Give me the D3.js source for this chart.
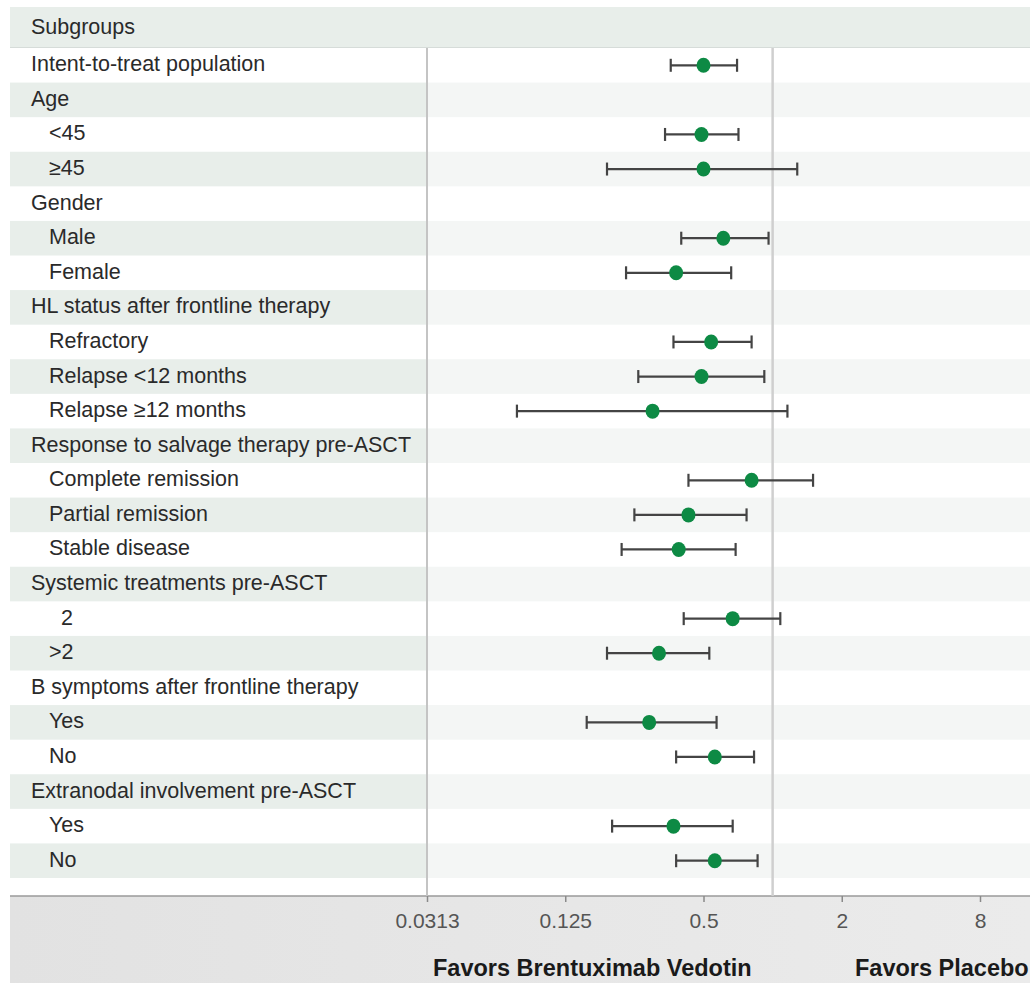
<!DOCTYPE html>
<html><head><meta charset="utf-8">
<script src="https://cdn.jsdelivr.net/npm/d3@7"></script>
<style>
html,body{margin:0;padding:0;background:#fff;}
svg{display:block;font-family:"Liberation Sans",Arial,sans-serif;}
</style></head>
<body>
<svg id="chart" width="1030" height="983"></svg>
<script>
// ---- data ----
const subgroups = [
  "Intent-to-treat population","Age","<45","\u226545","Gender","Male","Female",
  "HL status after frontline therapy","Refractory","Relapse <12 months","Relapse \u226512 months",
  "Response to salvage therapy pre-ASCT","Complete remission","Partial remission","Stable disease",
  "Systemic treatments pre-ASCT","\u20072",">2","B symptoms after frontline therapy","Yes","No",
  "Extranodal involvement pre-ASCT","Yes","No"
];
const indentLevel = [0,0,1,1,0,1,1,0,1,1,1,0,1,1,1,0,1,1,0,1,1,0,1,1];
const hazardRatio = [0.50,null,0.49,0.50,null,0.61,0.38,null,0.54,0.49,0.30,null,0.81,0.43,0.39,null,0.67,0.32,null,0.29,0.56,null,0.37,0.56];
const ciLower     = [0.36,null,0.34,0.19,null,0.40,0.23,null,0.37,0.26,0.077,null,0.43,0.25,0.22,null,0.41,0.19,null,0.155,0.38,null,0.20,0.38];
const ciUpper     = [0.70,null,0.71,1.28,null,0.96,0.66,null,0.81,0.92,1.16,null,1.50,0.77,0.69,null,1.08,0.53,null,0.57,0.83,null,0.67,0.86];
const tickValues  = [0.03125,0.125,0.5,2,8];
const tickLabels  = ["0.0313","0.125","0.5","2","8"];
const headerLabel = "Subgroups";
const favorsLeft  = "Favors Brentuximab Vedotin";
const favorsRight = "Favors Placebo";
const referenceValue = 1;

// ---- layout ----
const W = 1030, H = 983;
const left = 10, plotL = 427, plotR = 980;
const headerTop = 7, rowsTop = 48, rowsBottom = 878, axisTop = 896;

const svg = d3.select("#chart");
const x = d3.scaleLog().base(2).domain([tickValues[0], tickValues[tickValues.length-1]]).range([plotL, plotR]);
const y = d3.scaleBand().domain(d3.range(subgroups.length)).range([rowsTop, rowsBottom]).padding(0);

const rows = subgroups.map((s,i)=>({label:s, lvl:indentLevel[i], hr:hazardRatio[i], lo:ciLower[i], hi:ciUpper[i], i}));

// header
svg.append("rect").attr("x",left).attr("y",headerTop).attr("width",W-left).attr("height",rowsTop-headerTop).attr("fill","#e8eeea");
svg.append("line").attr("x1",left).attr("x2",W).attr("y1",rowsTop-0.5).attr("y2",rowsTop-0.5).attr("stroke","#d6dcd9").attr("stroke-width",1);
svg.append("text").attr("x",31).attr("y",(headerTop+rowsTop)/2+6.5).attr("font-size",21.5).attr("fill","#2a2a2a").text(headerLabel);

// row shading
const shaded = rows.filter(d=>d.i%2===1);
svg.selectAll("rect.sl").data(shaded).join("rect").attr("class","sl")
  .attr("x",left).attr("y",d=>y(d.i)).attr("width",plotL-left).attr("height",y.bandwidth()).attr("fill","#e8eeea");
svg.selectAll("rect.sr").data(shaded).join("rect").attr("class","sr")
  .attr("x",plotL).attr("y",d=>y(d.i)).attr("width",W-plotL).attr("height",y.bandwidth()).attr("fill","#f4f6f5");

// labels
svg.selectAll("text.lab").data(rows).join("text").attr("class","lab")
  .attr("x",d=>d.lvl? 49 : 31).attr("y",d=>y(d.i)+y.bandwidth()/2+6)
  .attr("font-size",21.5).attr("fill","#2a2a2a").text(d=>d.label);

// axis area
const grad = svg.append("defs").append("linearGradient").attr("id","axg").attr("x1",0).attr("x2",1).attr("y1",0).attr("y2",0);
grad.append("stop").attr("offset","0%").attr("stop-color","#e2e2e2");
grad.append("stop").attr("offset","100%").attr("stop-color","#ebebeb");
svg.append("rect").attr("x",left).attr("y",axisTop).attr("width",W-left).attr("height",H-axisTop).attr("fill","url(#axg)");
svg.append("line").attr("x1",left).attr("x2",W).attr("y1",axisTop).attr("y2",axisTop).attr("stroke","#9a9a9a").attr("stroke-width",1.5);

// vertical lines
svg.append("line").attr("x1",plotL).attr("x2",plotL).attr("y1",rowsTop).attr("y2",axisTop).attr("stroke","#c4c4c4").attr("stroke-width",2);
svg.append("line").attr("x1",x(referenceValue)).attr("x2",x(referenceValue)).attr("y1",rowsTop).attr("y2",axisTop).attr("stroke","#cfcfcf").attr("stroke-width",2.5);

// axis
const axis = d3.axisBottom(x).tickValues(tickValues).tickFormat((d,i)=>tickLabels[i]).tickSize(6).tickSizeOuter(0).tickPadding(11);
const ag = svg.append("g").attr("transform",`translate(0,${axisTop})`).call(axis);
ag.select(".domain").remove();
ag.selectAll(".tick line").attr("stroke","#8a8a8a").attr("stroke-width",1.5);
ag.selectAll(".tick text").attr("font-size",21).attr("fill","#555").attr("font-family","'Liberation Sans',Arial,sans-serif");

// favors labels
svg.append("text").attr("x",433).attr("y",976).attr("font-size",23.5).attr("font-weight","bold").attr("fill","#1a1a1a").text(favorsLeft);
svg.append("text").attr("x",855).attr("y",976).attr("font-size",23.5).attr("font-weight","bold").attr("fill","#1a1a1a").text(favorsRight);

// CI + points
const data = rows.filter(d=>d.hr!=null);
const g = svg.append("g");
const cy = d=>y(d.i)+y.bandwidth()/2;
g.selectAll("line.ci").data(data).join("line").attr("class","ci")
  .attr("x1",d=>x(d.lo)).attr("x2",d=>x(d.hi)).attr("y1",cy).attr("y2",cy)
  .attr("stroke","#444").attr("stroke-width",2.2);
g.selectAll("line.capl").data(data).join("line").attr("class","capl")
  .attr("x1",d=>x(d.lo)).attr("x2",d=>x(d.lo)).attr("y1",d=>cy(d)-6.5).attr("y2",d=>cy(d)+6.5)
  .attr("stroke","#444").attr("stroke-width",2.2);
g.selectAll("line.capr").data(data).join("line").attr("class","capr")
  .attr("x1",d=>x(d.hi)).attr("x2",d=>x(d.hi)).attr("y1",d=>cy(d)-6.5).attr("y2",d=>cy(d)+6.5)
  .attr("stroke","#444").attr("stroke-width",2.2);
g.selectAll("ellipse.pt").data(data).join("ellipse").attr("class","pt")
  .attr("cx",d=>x(d.hr)).attr("cy",cy).attr("rx",7).attr("ry",7.5).attr("fill","#0d8a44");
</script>
</body></html>
